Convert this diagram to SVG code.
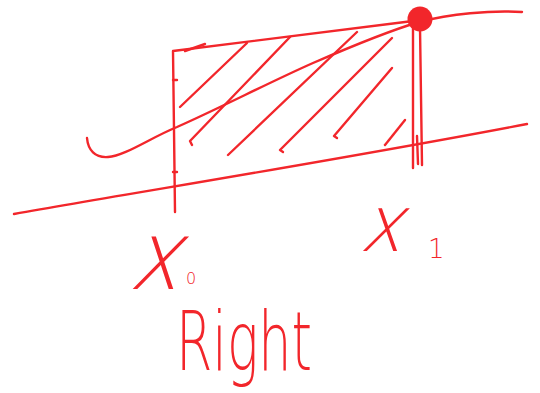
<svg xmlns="http://www.w3.org/2000/svg" width="540" height="393" viewBox="0 0 540 393">
<style>
.s{fill:none;stroke:#f2262b;stroke-width:2.4;stroke-linecap:round;stroke-linejoin:round}
.t{fill:#f2262b;font-family:"DejaVu Sans",sans-serif;font-weight:200}
</style>
<rect width="540" height="393" fill="#ffffff"/>
<g id="axis">
<path class="s" d="M14,214 C150,190 350,158 527,124"/>
</g>
<g id="curve">
<path class="s" d="M87,138 C88,150 95,158 108,157 C125,156 150,138 177,127 C220,108 270,82 313,63 C350,47 385,32 419,22 C450,14 490,10 522,12"/>
</g>
<g id="rectangle">
<path class="s" d="M175,212 L174,130 L173,51 L413,21"/>
<path class="s" d="M173,80 L177,80 M173,172 L177,172"/>
<path class="s" d="M413,27 L413,168 M420,27 L422,165 M417,136 L418,164"/>
</g>
<g id="hatch">
<path class="s" d="M180,107 L247,43 M185,51 L205,44"/>
<path class="s" d="M192,145 L190,141 L290,37"/>
<path class="s" d="M228,155 L357,32"/>
<path class="s" d="M283,152 L280,150 L392,38"/>
<path class="s" d="M337,138 L334,136 L392,68"/>
<path class="s" d="M385,145 L405,120"/>
</g>
<g id="point">
<circle cx="420" cy="19" r="12.5" fill="#f2262b"/>
</g>
<g id="labels">
<text class="t" transform="translate(128,289) skewX(-18)" font-size="96" textLength="50" lengthAdjust="spacingAndGlyphs">x</text>
<text class="t" x="186" y="284" font-size="16">0</text>
<text class="t" transform="translate(359,251) skewX(-18)" font-size="78" textLength="42" lengthAdjust="spacingAndGlyphs">x</text>
<text class="t" x="428" y="258" font-size="26">1</text>
<text class="t" x="176" y="370" font-size="82" textLength="136" lengthAdjust="spacingAndGlyphs">Right</text>
</g>
</svg>
